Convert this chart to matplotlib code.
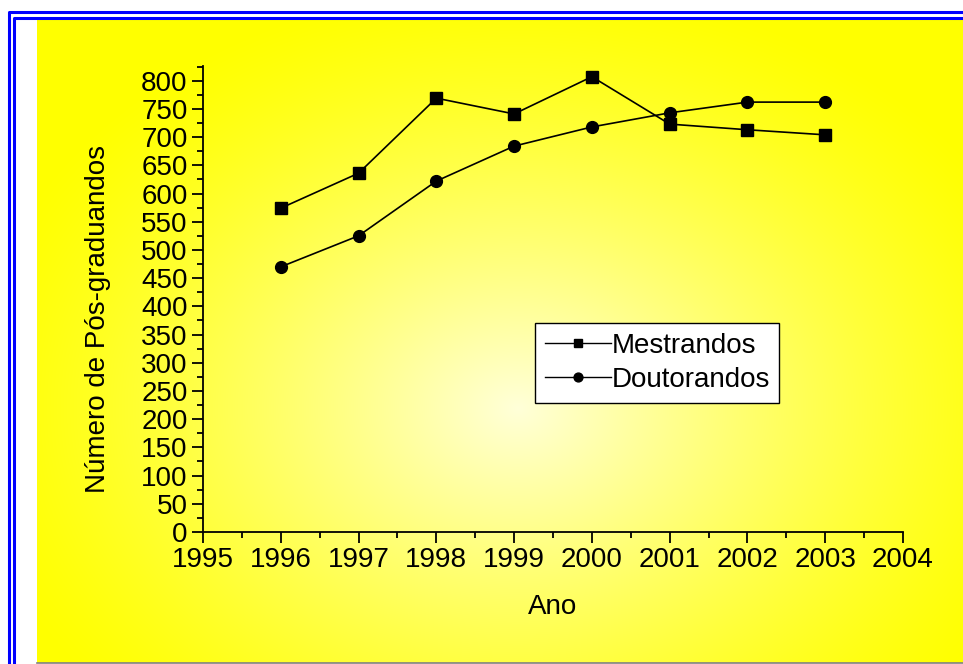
import numpy as np
import matplotlib.pyplot as plt
from matplotlib.lines import Line2D

plt.rcParams['font.family'] = ['Liberation Sans', 'DejaVu Sans']

# dados
anos = [1996, 1997, 1998, 1999, 2000, 2001, 2002, 2003]
mestrandos = [574, 636, 769, 741, 807, 723, 713, 704]
doutorandos = [470, 525, 622, 684, 718, 743, 762, 762]

W, H = 963, 664
fig = plt.figure(figsize=(W / 100, H / 100), dpi=100)

# fundo amarelo com degrade radial
bg = fig.add_axes([37 / W, 1 / H, (W - 37) / W, (H - 19) / H])
bg.set_axis_off()
yy, xx = np.mgrid[0:645, 0:926]
cx, cy, rx, ry = 480, 390, 560, 430
t = np.clip(np.sqrt(((xx - cx) / rx) ** 2 + ((yy - cy) / ry) ** 2), 0, 1)
img = np.ones((645, 926, 3))
img[..., 2] = 0.85 * (1 - t) ** 1.3
bg.imshow(img, aspect='auto', interpolation='bilinear')

# bordas azuis
def fline(xs, ys, **kw):
    fig.add_artist(Line2D([x / W for x in xs], [1 - y / H for y in ys],
                          transform=fig.transFigure, **kw))

fline([9, 9, W], [H, 12, 12], color='#0000ff', lw=2.2)
fline([14, 14, W], [H, 18, 18], color='#0000ff', lw=2.2)
fline([37, W], [663, 663], color='#808080', lw=1.2)

ax = fig.add_axes([203 / W, 1 - 532 / H, 700 / W, 466 / H])
ax.patch.set_alpha(0)
ax.plot(anos, mestrandos, color='black', lw=1.2, marker='s', ms=8, label='Mestrandos')
ax.plot(anos, doutorandos, color='black', lw=1.2, marker='o', ms=8.5, label='Doutorandos')

ax.set_xlim(1995, 2004)
ax.set_ylim(0, 826)
ax.set_xticks(range(1995, 2005))
ax.set_xticks(np.arange(1995.5, 2004, 1), minor=True)
ax.set_yticks(range(0, 801, 50))
ax.set_yticks(range(25, 826, 50), minor=True)
for s in ['top', 'right']:
    ax.spines[s].set_visible(False)
for s in ['left', 'bottom']:
    ax.spines[s].set_linewidth(1.3)
ax.tick_params(which='major', length=8, width=1.3, labelsize=20, pad=3)
ax.tick_params(which='minor', length=4, width=1.3)
ax.set_xlabel('Ano', fontsize=20, labelpad=15)
ax.set_ylabel('Número de Pós-graduandos', fontsize=20)
ax.yaxis.set_label_coords(-0.131, 0.457)

leg = ax.legend(loc='upper left', bbox_to_anchor=(535 / W, 1 - 323 / H),
                bbox_transform=fig.transFigure, fontsize=20, frameon=True,
                fancybox=False, edgecolor='black', framealpha=1,
                handlelength=2.4, handletextpad=0.0, borderpad=0.35,
                borderaxespad=0, labelspacing=0.3, numpoints=1, markerscale=0.75)
leg.get_frame().set_linewidth(1.0)
for h in leg.get_lines():
    h.set_linewidth(1.0)

fig.savefig('out.png', dpi=100)
